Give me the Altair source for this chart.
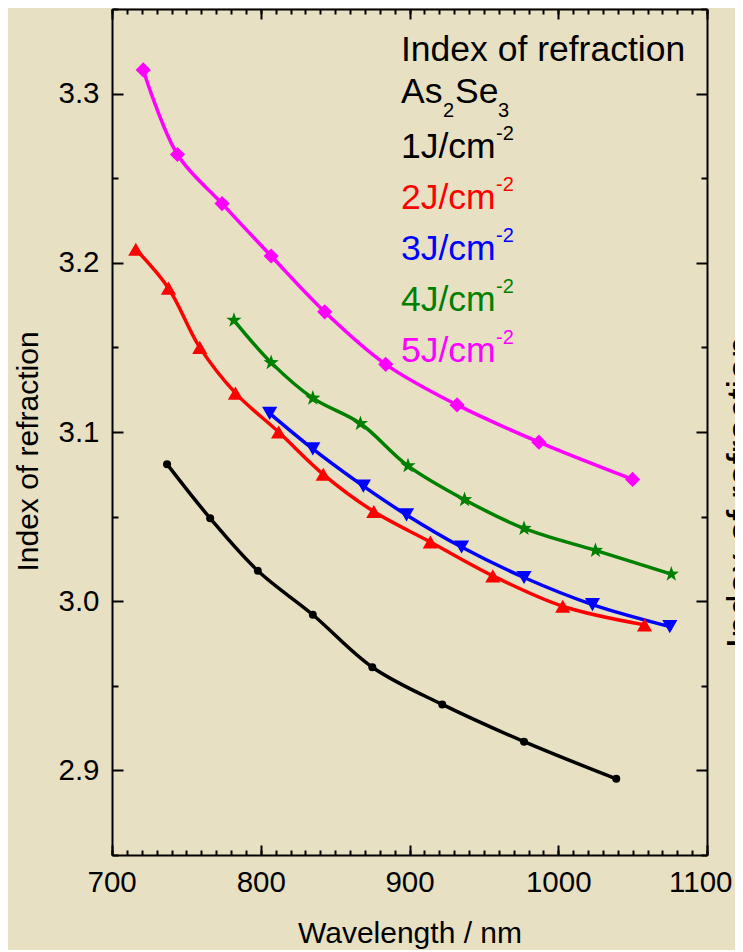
import altair as alt
import pandas as pd

# ---------------- data ----------------
series = ["1J/cm", "2J/cm", "3J/cm", "4J/cm", "5J/cm"]
colors = ["#000000", "#FF0000", "#0000FF", "#008000", "#FF00FF"]

wl_1 = [737, 766, 798, 835, 875, 922, 977, 1039]
n_1 = [3.081, 3.049, 3.018, 2.992, 2.961, 2.939, 2.917, 2.895]
wl_2 = [716, 738, 759, 783, 812, 842, 876, 914, 956, 1003, 1058]
n_2 = [3.208, 3.185, 3.150, 3.123, 3.100, 3.075, 3.053, 3.035, 3.015, 2.997, 2.986]
wl_3 = [806, 835, 869, 898, 935, 977, 1023, 1075]
n_3 = [3.111, 3.090, 3.068, 3.051, 3.032, 3.014, 2.998, 2.985]
wl_4 = [782, 807, 835, 867, 899, 937, 977, 1025, 1076]
n_4 = [3.166, 3.141, 3.120, 3.105, 3.080, 3.060, 3.043, 3.030, 3.016]
wl_5 = [721, 744, 774, 807, 843, 884, 932, 987, 1050]
n_5 = [3.314, 3.264, 3.235, 3.204, 3.171, 3.140, 3.116, 3.094, 3.072]

x_major = [700, 800, 900, 1000, 1100]
x_minor = [700, 710, 720, 730, 740, 750, 760, 770, 780, 790, 800, 810, 820, 830, 840,
           850, 860, 870, 880, 890, 900, 910, 920, 930, 940, 950, 960, 970, 980, 990,
           1000, 1010, 1020, 1030, 1040, 1050, 1060, 1070, 1080, 1090, 1100]
y_major = [2.9, 3.0, 3.1, 3.2, 3.3]
y_minor = [2.85, 2.95, 3.05, 3.15, 3.25, 3.35]

legend_title = "Index of refraction"
material_parts = ["As", "2", "Se", "3"]
superscript = "-2"
x_title = "Wavelength / nm"
y_title = "Index of refraction"

# ---------------- styles ----------------
BG = "#E7E0C3"
STAR = ("M0,-1L0.235,-0.324L0.951,-0.309L0.38,0.124L0.588,0.809L0,0.4"
        "L-0.588,0.809L-0.38,0.124L-0.951,-0.309L-0.235,-0.324Z")
shapes = ["circle", "triangle-up", "triangle-down", STAR, "diamond"]
marker_sizes = [64, 230, 230, 260, 230]

# ---------------- table ----------------
wls = [wl_1, wl_2, wl_3, wl_4, wl_5]
ns = [n_1, n_2, n_3, n_4, n_5]
rows = []
for s, wl, nn in zip(series, wls, ns):
    for a, b in zip(wl, nn):
        rows.append({"series": s, "wl": a, "n": b})
df = pd.DataFrame(rows)

FONT = "Liberation Sans"
W, H = 595, 846
xs = alt.Scale(domain=[700, 1100], nice=False, zero=False)
ys = alt.Scale(domain=[2.85, 3.35], nice=False, zero=False)

color = alt.Color("series:N", scale=alt.Scale(domain=series, range=colors), legend=None)


def tick_axis(orient, values, size, domain=False, **kw):
    return alt.Axis(orient=orient, values=values, labels=False, ticks=True,
                    tickSize={"expr": str(-size)}, domain=domain, grid=False, **kw)


# lines with label axes
lines = alt.Chart(df).mark_line(interpolate="catmull-rom", strokeWidth=3.5).encode(
    x=alt.X("wl:Q", scale=xs, axis=alt.Axis(
        orient="bottom", values=x_major, format="d", ticks=False, tickSize=0,
        labelPadding=13, labelFlush=True, labelFlushOffset=25, labelOverlap=False,
        grid=False, domain=True,
        title=x_title, titleX=W / 2, titleY=87, titleAlign="center",
        titleBaseline="alphabetic")),
    y=alt.Y("n:Q", scale=ys, axis=alt.Axis(
        orient="left", values=y_major, format=".1f", ticks=False, tickSize=0,
        labelPadding=13, labelFlush=False, labelOverlap=False, grid=False, domain=True,
        title=y_title, titleX=-75, titleY=442, titleAngle=270, titleAlign="center",
        titleBaseline="alphabetic")),
    color=color,
)

point_layers = []
for s, c, shp, sz, wl, nn in zip(series, colors, shapes, marker_sizes, wls, ns):
    d = pd.DataFrame({"wl": wl, "n": nn})
    point_layers.append(
        alt.Chart(d).mark_point(filled=True, opacity=1, shape=shp, size=sz, color=c,
                                strokeWidth=0).encode(
            x=alt.X("wl:Q", scale=xs, axis=None),
            y=alt.Y("n:Q", scale=ys, axis=None),
        )
    )

hidden1 = alt.Chart(df).mark_point(opacity=0).encode(
    x=alt.X("wl:Q", scale=xs, axis=tick_axis("bottom", x_major, 10), title=None),
    y=alt.Y("n:Q", scale=ys, axis=tick_axis("left", y_major, 11), title=None),
)
hidden2 = alt.Chart(df).mark_point(opacity=0).encode(
    x=alt.X("wl:Q", scale=xs, axis=tick_axis("bottom", x_minor, 5), title=None),
    y=alt.Y("n:Q", scale=ys, axis=tick_axis("left", y_minor, 6), title=None),
)
hidden3 = alt.Chart(df).mark_point(opacity=0).encode(
    x=alt.X("wl:Q", scale=xs, axis=tick_axis("top", x_major, 10, domain=True), title=None),
    y=alt.Y("n:Q", scale=ys, axis=tick_axis(
        "right", y_major, 11, domain=True, titleX=46, titleY=483, titleAngle=270,
        titleAlign="center", titleBaseline="alphabetic", titleFontSize=39),
        title=y_title),
)
hidden4 = alt.Chart(df).mark_point(opacity=0).encode(
    x=alt.X("wl:Q", scale=xs, axis=tick_axis("top", x_minor, 5), title=None),
    y=alt.Y("n:Q", scale=ys, axis=tick_axis("right", y_minor, 6), title=None),
)

# ---------------- legend text ----------------
LX = 289
texts = []


def txt(s, x, y, c="#000000", fs=35.5):
    return alt.Chart(pd.DataFrame({"t": [s]})).mark_text(
        align="left", baseline="alphabetic", font=FONT, fontSize=fs, color=c
    ).encode(x=alt.value(x), y=alt.value(y), text="t:N")


texts.append(txt(legend_title, LX, 52))
texts.append(txt(material_parts[0], LX, 94))
texts.append(txt(material_parts[1], LX + 42, 108, fs=20))
texts.append(txt(material_parts[2], LX + 54, 94))
texts.append(txt(material_parts[3], LX + 97, 108, fs=20))
base_y = [149, 200, 251, 302, 353]
for s, c, by in zip(series, colors, base_y):
    texts.append(txt(s, LX, by, c))
    texts.append(txt(superscript, LX + 95, by - 18, c, fs=20))

chart = alt.layer(hidden1, hidden2, hidden3, hidden4, lines, *point_layers, *texts).resolve_axis(
    x="independent", y="independent"
).properties(
    width=W, height=H,
    autosize=alt.AutoSizeParams(type="none"),
    padding={"left": 104, "top": 1, "right": 28, "bottom": 95},
    background=BG,
    usermeta={"embedOptions": {"defaultStyle": "body { background: " + BG + "; }"}},
).configure_view(strokeWidth=0).configure_axis(
    labelFont=FONT, titleFont=FONT, labelFontSize=29.5, titleFontSize=30,
    labelColor="#000000", titleColor="#000000", titleFontWeight="normal",
    domainColor="#000000", tickColor="#000000", domainWidth=2, tickWidth=2,
)

chart.save("out.html", embed_options={"renderer": "svg", "actions": False})
